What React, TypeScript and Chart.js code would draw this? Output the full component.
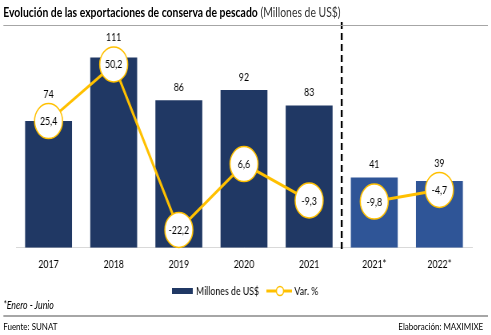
import React, { useEffect, useRef } from "react";
import { Chart, registerables } from "chart.js";

Chart.register(...registerables);

const categories = ["2017", "2018", "2019", "2020", "2021", "2021*", "2022*"];
const exportValues = [74, 111, 86, 92, 83, 41, 39];
const variationValues = [25.4, 50.2, -22.2, 6.6, -9.3, -9.8, -4.7];
const barLabel = "Millones de US$";
const lineLabel = "Var. %";

const NAVY = "#203864";
const BLUE = "#2F5597";
const GOLD = "#FFC000";
const FONT = 'Lato, "Open Sans", sans-serif';
// the reference is horizontally condensed; draw wide and squeeze with CSS
const SQUEEZE = 0.8;
const W = 614;
const H = 335;

const fmt = (v: number) => v.toFixed(1).replace(".", ",");
const isPartial = (i: number) => categories[i].includes("*");

const overlayPlugin = {
  id: "overlay",
  afterDatasetsDraw(chart: any) {
    const ctx = chart.ctx as CanvasRenderingContext2D;
    const barMeta = chart.getDatasetMeta(0);
    const lineMeta = chart.getDatasetMeta(1);
    const area = chart.chartArea;
    ctx.save();
    const firstPartial = categories.findIndex((c) => c.includes("*"));
    if (firstPartial > 0) {
      const xd = (barMeta.data[firstPartial - 1].x + barMeta.data[firstPartial].x) / 2;
      ctx.setLineDash([7, 4]);
      ctx.lineWidth = 2.4;
      ctx.strokeStyle = "#000";
      ctx.beginPath();
      ctx.moveTo(xd, 22);
      ctx.lineTo(xd, area.bottom + 3);
      ctx.stroke();
      ctx.setLineDash([]);
    }
    const r = 17.5;
    lineMeta.data.forEach((pt: any, i: number) => {
      ctx.beginPath();
      ctx.arc(pt.x, pt.y, r, 0, Math.PI * 2);
      ctx.fillStyle = "#fff";
      ctx.fill();
      ctx.lineWidth = 1.5;
      ctx.strokeStyle = GOLD;
      ctx.stroke();
      ctx.fillStyle = "#000";
      ctx.font = `11px ${FONT}`;
      ctx.textAlign = "center";
      ctx.textBaseline = "middle";
      ctx.fillText(fmt(variationValues[i]), pt.x, pt.y + 0.5);
    });
    barMeta.data.forEach((bar: any, i: number) => {
      let y = bar.y - 13;
      const pt = lineMeta.data[i];
      const top = pt.y - r;
      if (top - 9 < y && pt.y + r > y - 8) y = top - 9;
      ctx.fillStyle = "#000";
      ctx.font = `11px ${FONT}`;
      ctx.textAlign = "center";
      ctx.textBaseline = "middle";
      ctx.fillText(String(exportValues[i]), bar.x, y);
    });
    ctx.restore();
  },
  afterDraw(chart: any) {
    const ctx = chart.ctx as CanvasRenderingContext2D;
    ctx.save();
    const y = 291;
    ctx.font = `11px ${FONT}`;
    ctx.textBaseline = "middle";
    ctx.textAlign = "left";
    ctx.fillStyle = NAVY;
    ctx.fillRect(215, y - 3, 26, 6);
    ctx.fillStyle = "#000";
    ctx.fillText(chart.data.datasets[0].label, 245, y);
    ctx.strokeStyle = GOLD;
    ctx.lineWidth = 3;
    ctx.beginPath();
    ctx.moveTo(333, y);
    ctx.lineTo(365, y);
    ctx.stroke();
    ctx.beginPath();
    ctx.arc(350, y, 4.5, 0, Math.PI * 2);
    ctx.fillStyle = "#fff";
    ctx.fill();
    ctx.lineWidth = 1.5;
    ctx.stroke();
    ctx.fillStyle = "#000";
    ctx.fillText(chart.data.datasets[1].label, 368, y);
    ctx.restore();
  },
};

export default function App() {
  const ref = useRef<HTMLCanvasElement | null>(null);

  useEffect(() => {
    document.body.style.margin = "0";
    if (!ref.current) return;
    const chart = new Chart(ref.current, {
      type: "bar",
      data: {
        labels: categories,
        datasets: [
          {
            type: "bar",
            label: barLabel,
            data: exportValues,
            backgroundColor: categories.map((_, i) => (isPartial(i) ? BLUE : NAVY)),
            yAxisID: "y",
            order: 2,
            barPercentage: 0.72,
            categoryPercentage: 1,
          },
          {
            type: "line",
            label: lineLabel,
            data: variationValues,
            borderColor: GOLD,
            borderWidth: 3,
            pointRadius: 0,
            tension: 0,
            yAxisID: "y1",
            order: 1,
            segment: {
              borderColor: (c: any) =>
                isPartial(c.p1DataIndex) && !isPartial(c.p0DataIndex) ? "transparent" : GOLD,
            },
          } as any,
        ],
      },
      options: {
        responsive: false,
        animation: false,
        devicePixelRatio: 1,
        layout: { padding: { top: 42, left: 20, right: 24, bottom: 54 } },
        plugins: { legend: { display: false }, tooltip: { enabled: false } },
        scales: {
          x: {
            grid: { display: false, drawTicks: false },
            border: { display: true, color: "#D9D9D9", width: 1 },
            ticks: { color: "#000", font: { family: FONT, size: 11 }, padding: 10 },
          },
          y: { display: false, min: 0, max: 120 },
          y1: { display: false, min: -30, max: 60 },
        },
      },
      plugins: [overlayPlugin],
    });
    return () => chart.destroy();
  }, []);

  return (
    <div style={{ width: 491, height: 335, overflow: "hidden", background: "#fff" }}>
      <div
        style={{
          position: "relative",
          width: W,
          height: H,
          transform: `scaleX(${SQUEEZE})`,
          transformOrigin: "0 0",
          fontFamily: FONT,
          color: "#000",
        }}
      >
        <canvas ref={ref} width={W} height={H} style={{ position: "absolute", left: 0, top: 0 }} />
        <div style={{ position: "absolute", left: 4, top: 4, fontSize: 13, lineHeight: "16px", whiteSpace: "nowrap" }}>
          <span style={{ fontWeight: "bold" }}>Evolución de las exportaciones de conserva de pescado</span>{" "}
          <span style={{ color: "#333" }}>(Millones de US$)</span>
        </div>
        <div style={{ position: "absolute", left: 4, top: 25, width: 606, height: 1, background: "#A6A6A6" }} />
        <div style={{ position: "absolute", left: 4, top: 298, fontSize: 11, lineHeight: "14px", fontStyle: "italic", whiteSpace: "nowrap" }}>
          *Enero - Junio
        </div>
        <div style={{ position: "absolute", left: 4, top: 315, width: 606, height: 2, background: "#A6A6A6" }} />
        <div style={{ position: "absolute", left: 4, top: 320, fontSize: 10, lineHeight: "12px", whiteSpace: "nowrap" }}>
          Fuente: SUNAT
        </div>
        <div style={{ position: "absolute", right: 10, top: 320, fontSize: 10, lineHeight: "12px", whiteSpace: "nowrap" }}>
          Elaboración: MAXIMIXE
        </div>
      </div>
    </div>
  );
}
